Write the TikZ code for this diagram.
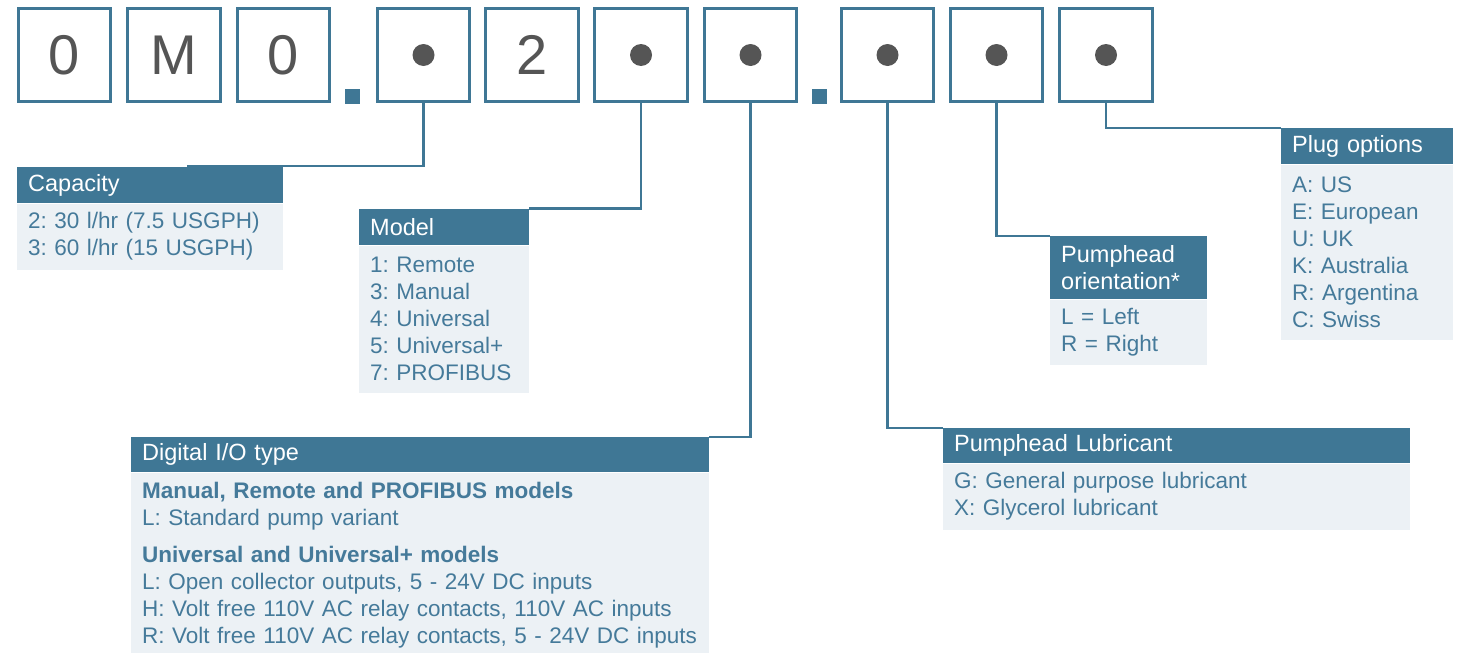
\documentclass[tikz,border=0pt]{standalone}
\usepackage{fontspec}
\setmainfont{Liberation Sans}
\usetikzlibrary{calc}
\frenchspacing
\definecolor{hdrc}{HTML}{3F7795}
\definecolor{bodyc}{HTML}{ECF1F5}
\definecolor{txtc}{HTML}{457A9A}
\definecolor{digc}{HTML}{555555}
\begin{document}
\begin{tikzpicture}[x=1pt,y=-1pt,
  digit/.style={draw=hdrc, line width=2.6pt, minimum size=92.5pt, inner sep=0pt, fill=white, text=digc, font=\fontsize{56}{60}\selectfont},
  sepsq/.style={fill=hdrc, minimum size=15pt, inner sep=0pt},
  dotc/.style={circle, fill=digc, minimum size=22pt, inner sep=0pt},
  hdr/.style={fill=hdrc, text=white, anchor=north west, inner xsep=11pt, inner ysep=0pt, align=left, font=\fontsize{23.5}{27}\selectfont},
  bdy/.style={fill=bodyc, text=txtc, anchor=north west, inner xsep=11pt, inner ysep=0pt, align=left, font=\fontsize{22.5}{27}\selectfont},
  conn/.style={draw=hdrc, line width=2.2pt}]
\useasboundingbox (0,0) rectangle (1462,653);

% code boxes
\node[digit] (b1) at (64.5,55) {0};
\node[digit] (b2) at (174,55) {M};
\node[digit] (b3) at (283.5,55) {0};
\node[sepsq] (s1) at (352.5,96.5) {};
\node[digit] (b4) at (423.5,55) {};
\node[digit] (b5) at (532,55) {2};
\node[digit] (b6) at (641,55) {};
\node[digit] (b7) at (750.5,55) {};
\node[sepsq] (s2) at (819.5,96.5) {};
\node[digit] (b8) at (887.5,55) {};
\node[digit] (b9) at (996.5,55) {};
\node[digit] (b10) at (1106,55) {};
\foreach \b in {b4,b6,b7,b8,b9,b10} \node[dotc] (d\b) at (\b) {};

% Capacity
\node[hdr, text width=244pt, minimum height=36pt] (caph) at (17,167) {Capacity};
\node[bdy, text width=244pt, minimum height=66pt] (capb) at (caph.south west) {2: 30 l/hr (7.5 USGPH)\\3: 60 l/hr (15 USGPH)};

% Model
\node[hdr, text width=148pt, minimum height=36.5pt] (modh) at (359,208.5) {Model};
\node[bdy, text width=148pt, minimum height=147pt] (modb) at (modh.south west) {1: Remote\\3: Manual\\4: Universal\\5: Universal+\\7: PROFIBUS};

% Digital I/O
\node[hdr, text width=556pt, minimum height=35pt] (digh) at (131,437) {Digital I/O type};
\node[bdy, text width=556pt, minimum height=186pt] (digb) at (digh.south west) {\textbf{Manual, Remote and PROFIBUS models}\\L: Standard pump variant\\[10pt]\textbf{Universal and Universal+ models}\\L: Open collector outputs, 5 - 24V DC inputs\\H: Volt free 110V AC relay contacts, 110V AC inputs\\R: Volt free 110V AC relay contacts, 5 - 24V DC inputs};

% Pumphead Lubricant
\node[hdr, text width=445pt, minimum height=35pt] (lubh) at (943,428) {Pumphead Lubricant};
\node[bdy, text width=445pt, minimum height=66pt] (lubb) at (lubh.south west) {G: General purpose lubricant\\X: Glycerol lubricant};

% Pumphead orientation
\node[hdr, text width=135pt, minimum height=63pt] (orih) at (1050,236) {Pumphead\\orientation*};
\node[bdy, text width=135pt, minimum height=65pt] (orib) at (orih.south west) {L = Left\\R = Right};

% Plug options
\node[hdr, text width=150pt, minimum height=36pt] (plgh) at (1281,128) {Plug options};
\node[bdy, text width=150pt, minimum height=175pt] (plgb) at (plgh.south west) {A: US\\E: European\\U: UK\\K: Australia\\R: Argentina\\C: Swiss};

% connectors
\coordinate (capend) at ($(caph.north west)+(170,-1)$);
\draw[conn] (b4.south) |- (capend);
\draw[conn] (b6.south) |- (modh.north east);
\draw[conn] (b7.south) |- (digh.north east);
\draw[conn] (b8.south) |- (lubh.north west);
\draw[conn] (b9.south) |- (orih.north west);
\draw[conn] (b10.south) |- (plgh.north west);
\end{tikzpicture}
\end{document}
